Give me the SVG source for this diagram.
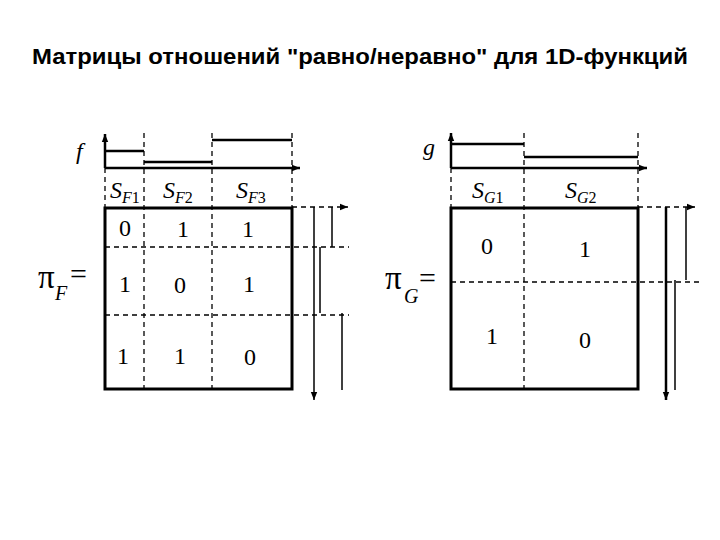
<svg xmlns="http://www.w3.org/2000/svg" width="720" height="540" viewBox="0 0 720 540">
<defs>
<marker id="ar" viewBox="0 0 10 10" refX="10" refY="5" markerWidth="8" markerHeight="8" markerUnits="userSpaceOnUse" orient="auto"><path d="M0,1 L10,5 L0,9 Z" fill="#000"/></marker>
</defs>
<style>
.t{font-family:'Liberation Sans',Arial,sans-serif;font-weight:bold;font-size:22px}
.s{font-family:'Liberation Serif','DejaVu Serif',serif;font-size:24px}
.i{font-style:italic}
.sub{font-size:16px}
.pi{font-family:'Liberation Serif','DejaVu Serif',serif;font-size:33px}
.pisub{font-family:'Liberation Serif',serif;font-size:20px;font-style:italic}
.eq{font-family:'Liberation Serif',serif;font-size:30px}
.box{fill:none;stroke:#000;stroke-width:3}
.d{stroke:#000;stroke-width:1.3;stroke-dasharray:5,4;fill:none}
.l{stroke:#000;stroke-width:1.5;fill:none}
.th{stroke:#000;stroke-width:2.5;fill:none}
</style>
<rect width="720" height="540" fill="#fff"/>
<text class="t" x="360" y="64" text-anchor="middle" textLength="656" lengthAdjust="spacingAndGlyphs">Матрицы отношений "равно/неравно" для 1D-функций</text>

<g id="plotF">
<line class="th" x1="105" y1="168" x2="300" y2="168" marker-end="url(#ar)"/>
<line class="th" x1="105" y1="168" x2="105" y2="134" marker-end="url(#ar)"/>
<line class="th" x1="105" y1="151" x2="144" y2="151"/>
<line class="th" x1="144" y1="162" x2="212" y2="162"/>
<line class="th" x1="212" y1="140" x2="292" y2="140"/>
<text class="s i" x="76" y="159">f</text>
</g>

<g id="matrixF">
<line class="d" x1="144" y1="133" x2="144" y2="389"/>
<line class="d" x1="212" y1="133" x2="212" y2="389"/>
<line class="d" x1="105" y1="168" x2="105" y2="208"/>
<line class="d" x1="292" y1="133" x2="292" y2="208"/>
<line class="d" x1="105" y1="247" x2="349" y2="247"/>
<line class="d" x1="105" y1="315" x2="349" y2="315"/>
<rect class="box" x="105" y="208" width="187" height="181"/>
<text class="s i" x="110" y="198">S<tspan class="sub" dy="5">F</tspan><tspan class="sub" font-style="normal">1</tspan></text>
<text class="s i" x="163" y="198">S<tspan class="sub" dy="5">F</tspan><tspan class="sub" font-style="normal">2</tspan></text>
<text class="s i" x="236" y="198">S<tspan class="sub" dy="5">F</tspan><tspan class="sub" font-style="normal">3</tspan></text>
<g class="s" text-anchor="middle">
<text x="125" y="236">0</text><text x="183" y="237">1</text><text x="248" y="237">1</text>
<text x="125" y="292">1</text><text x="180" y="293">0</text><text x="249" y="292">1</text>
<text x="123" y="364">1</text><text x="180" y="364">1</text><text x="250" y="365">0</text>
</g>
<text class="pi" x="38" y="288">π</text>
<text class="pisub" x="55" y="300">F</text>
<text class="eq" x="70" y="284">=</text>
</g>

<g id="axesF">
<line class="d" x1="292" y1="207" x2="348" y2="207" marker-end="url(#ar)"/>
<line class="l" x1="314" y1="207" x2="314" y2="400" marker-end="url(#ar)"/>
<line class="l" x1="332" y1="207" x2="332" y2="247"/>
<line class="l" x1="320" y1="247" x2="320" y2="313"/>
<line class="l" x1="342" y1="313" x2="342" y2="390"/>
</g>

<g id="plotG">
<line class="th" x1="451" y1="168" x2="647" y2="168" marker-end="url(#ar)"/>
<line class="th" x1="451" y1="168" x2="451" y2="133" marker-end="url(#ar)"/>
<line class="th" x1="451" y1="144" x2="524" y2="144"/>
<line class="th" x1="524" y1="157" x2="638" y2="157"/>
<text class="s i" x="423" y="155">g</text>
</g>

<g id="matrixG">
<line class="d" x1="524" y1="133" x2="524" y2="389"/>
<line class="d" x1="451" y1="168" x2="451" y2="208"/>
<line class="d" x1="638" y1="133" x2="638" y2="208"/>
<line class="d" x1="451" y1="282" x2="700" y2="282"/>
<rect class="box" x="451" y="208" width="187" height="181"/>
<text class="s i" x="472" y="198">S<tspan class="sub" dy="5">G</tspan><tspan class="sub" font-style="normal">1</tspan></text>
<text class="s i" x="565" y="198">S<tspan class="sub" dy="5">G</tspan><tspan class="sub" font-style="normal">2</tspan></text>
<g class="s" text-anchor="middle">
<text x="487" y="254">0</text><text x="585" y="257">1</text>
<text x="492" y="344">1</text><text x="585" y="348">0</text>
</g>
<text class="pi" x="385" y="289">π</text>
<text class="pisub" x="404" y="303">G</text>
<text class="eq" x="419" y="288">=</text>
</g>

<g id="axesG">
<line class="d" x1="638" y1="207" x2="695" y2="207" marker-end="url(#ar)"/>
<line class="th" x1="666" y1="207" x2="666" y2="400" marker-end="url(#ar)"/>
<line class="l" x1="686" y1="207" x2="686" y2="280"/>
<line class="l" x1="675" y1="280" x2="675" y2="390"/>
</g>
</svg>
